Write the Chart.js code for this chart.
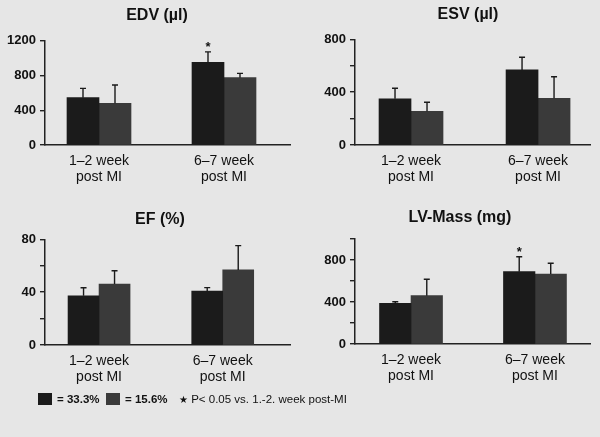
<!DOCTYPE html>
<html>
<head>
<meta charset="utf-8">
<script src="https://cdn.jsdelivr.net/npm/chart.js@4"></script>
<style>
  body { margin: 0; width: 600px; height: 437px; overflow: hidden; position: relative;
         background: #e6e6e6; font-family: "Liberation Sans", Arial, sans-serif; color: #111; }
  canvas { position: absolute; }
  .key { position: absolute; top: 393px; width: 14px; height: 12px; }
  .lbl { position: absolute; top: 391px; font-size: 11.5px; font-weight: bold; line-height: 16px; white-space: nowrap; }
  .note { position: absolute; top: 391px; left: 179px; font-size: 11.5px; line-height: 16px; white-space: nowrap; }
</style>
</head>
<body>
<canvas id="edv" width="300" height="200" style="left:0;top:0"></canvas>
<canvas id="esv" width="300" height="200" style="left:300px;top:0"></canvas>
<canvas id="ef" width="300" height="200" style="left:0;top:200px"></canvas>
<canvas id="lvm" width="300" height="200" style="left:300px;top:200px"></canvas>

<div class="key" style="left:38px;background:#1b1b1b"></div>
<div class="lbl" style="left:57px">= 33.3%</div>
<div class="key" style="left:106px;background:#3a3a3a"></div>
<div class="lbl" style="left:125px">= 15.6%</div>
<div class="note"><span style="font-size:10px">★</span> P&lt; 0.05 vs. 1.-2. week post-MI</div>

<script>
// x categories
const groups = [['1–2 week', 'post MI'], ['6–7 week', 'post MI']];

// 33.3% group (black) and 15.6% group (grey), mean and upper SD
const edv33 = [545, 950];
const edv33Sd = [107, 122];
const edv15 = [480, 775];
const edv15Sd = [210, 49];

const esv33 = [350, 568];
const esv33Sd = [80, 96];
const esv15 = [255, 354];
const esv15Sd = [68, 163];

const ef33 = [37.3, 40.9];
const ef33Sd = [6, 2.5];
const ef15 = [46.2, 56.8];
const ef15Sd = [10, 18.4];

const lvm33 = [388, 689];
const lvm33Sd = [15, 142];
const lvm15 = [460, 667];
const lvm15Sd = [156, 102];

// significance marks (black bar, 6-7 week)
const edvStars = [false, true];
const lvmStars = [false, true];

const font = '"Liberation Sans", Arial, sans-serif';

// error bars, stars and panel title
const extras = {
  id: 'extras',
  afterDatasetsDraw(chart) {
    const ctx = chart.ctx;
    const y = chart.scales.y;
    chart.data.datasets.forEach((ds, i) => {
      chart.getDatasetMeta(i).data.forEach((bar, j) => {
        const top = y.getPixelForValue(ds.data[j].y + ds.errors[j]);
        ctx.save();
        ctx.strokeStyle = '#1a1a1a';
        ctx.lineWidth = 1.4;
        ctx.beginPath();
        ctx.moveTo(bar.x, bar.y);
        ctx.lineTo(bar.x, top);
        ctx.moveTo(bar.x - 3, top);
        ctx.lineTo(bar.x + 3, top);
        ctx.stroke();
        if (ds.stars && ds.stars[j]) {
          ctx.fillStyle = '#111';
          ctx.font = 'bold 13px ' + font;
          ctx.textAlign = 'center';
          ctx.textBaseline = 'alphabetic';
          ctx.fillText('*', bar.x, top - 1);
        }
        ctx.restore();
      });
    });
    const p = chart.options.plugins.extras;
    ctx.save();
    ctx.font = 'bold 16px ' + font;
    ctx.fillStyle = '#111';
    ctx.textAlign = 'center';
    ctx.textBaseline = 'middle';
    ctx.fillText(p.title, p.titleX, p.titleY);
    ctx.restore();
  }
};

function panel(id, p) {
  new Chart(document.getElementById(id), {
    type: 'bar',
    data: {
      datasets: [
        { label: '33.3%', data: p.a.map((v, i) => ({ x: i, y: v })), errors: p.aSd, stars: p.stars,
          backgroundColor: '#1b1b1b', barThickness: p.bar },
        { label: '15.6%', data: p.b.map((v, i) => ({ x: i, y: v })), errors: p.bSd,
          backgroundColor: '#3a3a3a', barThickness: p.bar }
      ]
    },
    options: {
      responsive: false,
      animation: false,
      layout: { padding: { top: p.top, right: 10, bottom: 0, left: 0 } },
      plugins: {
        legend: { display: false },
        tooltip: { enabled: false },
        extras: { title: p.title, titleX: p.titleX, titleY: p.titleY }
      },
      scales: {
        x: {
          type: 'linear',
          offset: false,
          min: p.xMin,
          max: p.xMax,
          afterBuildTicks: s => { s.ticks = groups.map((g, i) => ({ value: i })); },
          afterFit: s => { s.height = 200 - p.bottom; },
          grid: { display: false, drawTicks: false, offset: false },
          border: { display: true, color: '#222', width: 1.5 },
          ticks: { color: '#111', padding: 9, maxRotation: 0, autoSkip: false,
                   font: { family: font, size: 14, lineHeight: 1.08 },
                   callback: v => groups[v] }
        },
        y: {
          min: 0,
          max: p.max,
          afterFit: s => { s.width = p.left; },
          grid: { drawOnChartArea: false, drawTicks: true, tickLength: 5, color: '#222', lineWidth: 1.4 },
          border: { display: true, color: '#222', width: 1.5 },
          ticks: { stepSize: p.major / 2, color: '#111', padding: 4,
                   font: { family: font, size: 13, weight: 'bold' },
                   callback: v => (v % p.major === 0 ? v : '') }
        }
      }
    },
    plugins: [extras]
  });
}

panel('edv', { title: 'EDV (µl)', titleX: 157, titleY: 16, a: edv33, aSd: edv33Sd, b: edv15, bSd: edv15Sd,
  stars: edvStars, max: 1200, major: 400, left: 45, top: 40.7, bottom: 145, xMin: -0.432, xMax: 1.528, bar: 32 });
panel('esv', { title: 'ESV (µl)', titleX: 168, titleY: 15, a: esv33, aSd: esv33Sd, b: esv15, bSd: esv15Sd,
  stars: null, max: 800, major: 400, left: 55, top: 39.3, bottom: 145, xMin: -0.441, xMax: 1.409, bar: 32 });
panel('ef', { title: 'EF (%)', titleX: 160, titleY: 20, a: ef33, aSd: ef33Sd, b: ef15, bSd: ef15Sd,
  stars: null, max: 80, major: 40, left: 45, top: 39.3, bottom: 145, xMin: -0.437, xMax: 1.544, bar: 31 });
panel('lvm', { title: 'LV-Mass (mg)', titleX: 160, titleY: 18, a: lvm33, aSd: lvm33Sd, b: lvm15, bSd: lvm15Sd,
  stars: lvmStars, max: 1000, major: 400, left: 55, top: 39, bottom: 144, xMin: -0.452, xMax: 1.444, bar: 31.5 });
</script>
</body>
</html>
